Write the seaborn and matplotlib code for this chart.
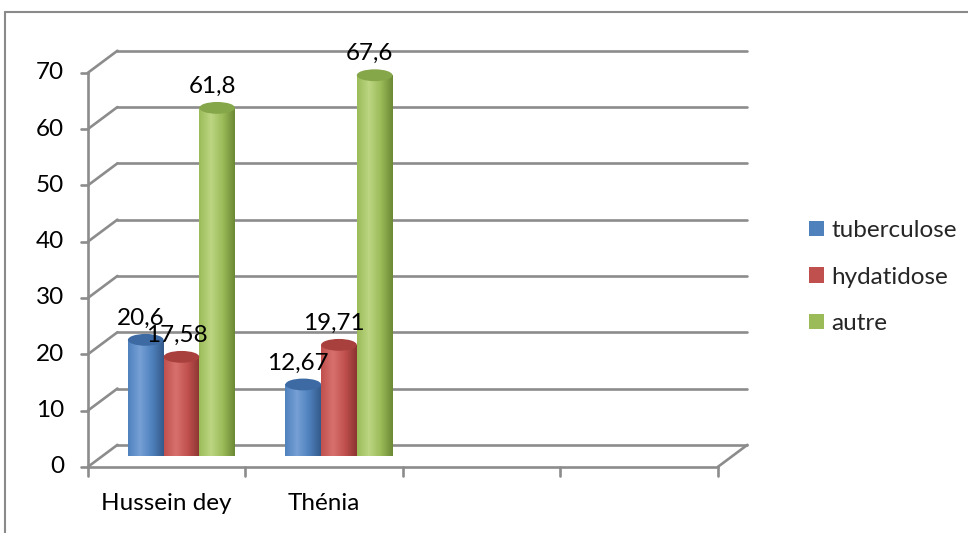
import numpy as np
import pandas as pd
import matplotlib
matplotlib.use('Agg')
import matplotlib.pyplot as plt
import seaborn as sns
from matplotlib.patches import Ellipse, Rectangle, Patch
from matplotlib.colors import LinearSegmentedColormap, to_rgba
from matplotlib.transforms import offset_copy

# --- données ---
SITES = ['Hussein dey', 'Thénia']
SLOTS = ['Hussein dey', 'Thénia', ' ', '  ']  # 4 emplacements, 2 vides
MALADIES = ['tuberculose', 'hydatidose', 'autre']
TUBERCULOSE = [20.6, 12.67]
HYDATIDOSE = [17.58, 19.71]
AUTRE = [61.8, 67.6]
Y_TICKS = [0, 10, 20, 30, 40, 50, 60, 70]

# --- couleurs (base, clair, sombre, dessus) ---
COLORS = {
    'tuberculose': ('#4F81BD', '#76A0D6', '#335A8A', '#3D6AA3'),
    'hydatidose': ('#C0504D', '#D8716E', '#8A3431', '#A8403D'),
    'autre': ('#9BBB59', '#BCD682', '#6B8833', '#86A64A'),
}
GRID = '#8c8c8c'

sns.set_theme(style='white')
plt.rcParams['font.family'] = ['Lato', 'DejaVu Sans']
FS = 17.5

df = pd.DataFrame({
    'site': SITES * 3,
    'maladie': [m for m in MALADIES for _ in SITES],
    'valeur': TUBERCULOSE + HYDATIDOSE + AUTRE,
})

fig = plt.figure(figsize=(9.68, 5.33), dpi=100)
ax = fig.add_axes([0.1061, 0.1448, 0.6508, 0.7394])

palette = {m: COLORS[m][0] for m in MALADIES}
sns.barplot(data=df, x='site', y='valeur', hue='maladie', order=SLOTS,
            hue_order=MALADIES, palette=palette, width=0.68, ax=ax,
            legend=False, errorbar=None)

ax.set_xlim(-0.5, len(SLOTS) - 0.5)
ax.set_ylim(0, 70)
ax.axis('off')

# plans avant / arrière (pseudo 3D)
front = offset_copy(ax.transData, fig=fig, x=-14.75, y=-11, units='dots')
back = offset_copy(ax.transData, fig=fig, x=14.75, y=11, units='dots')
x0, x1 = -0.5, len(SLOTS) - 0.5

line_kw = dict(color=GRID, lw=1.9, clip_on=False, zorder=1)
for t in Y_TICKS:
    # mur du fond
    ax.plot([x0, x1], [t, t], transform=back, **line_kw)
    # paroi gauche : diagonale avant -> arrière
    p_f = front.transform((x0, t))
    p_b = back.transform((x0, t))
    ax.plot([p_f[0], p_b[0]], [p_f[1], p_b[1]], transform=None, **line_kw)
    # petites graduations
    ax.plot([p_f[0] - 7, p_f[0]], [p_f[1], p_f[1]], transform=None, **line_kw)
    ax.text(p_f[0] - 24, p_f[1], str(t), ha='right', va='center',
            fontsize=FS, transform=None, color='black')

# axe vertical avant
ax.plot([x0, x0], [0, 70], transform=front, **line_kw)
# sol : bord avant et diagonale droite
ax.plot([x0, x1], [0, 0], transform=front, **line_kw)
p_f = front.transform((x1, 0))
p_b = back.transform((x1, 0))
ax.plot([p_f[0], p_b[0]], [p_f[1], p_b[1]], transform=None, **line_kw)

# graduations de l'axe des catégories
for i in range(len(SLOTS) + 1):
    p = front.transform((i - 0.5, 0))
    ax.plot([p[0], p[0]], [p[1], p[1] - 9], transform=None, **line_kw)
for i, s in enumerate(SITES):
    p = front.transform((i, 0))
    ax.text(p[0], p[1] - 37, s, ha='center', va='center', fontsize=FS,
            transform=None, color='black')

# cylindres
grad = np.linspace(0, 1, 256).reshape(1, -1)
ell_h = 2.1
bars = [p for p in ax.patches if p.get_height() > 0]
for p in bars:
    bx, bw, bh = p.get_x(), p.get_width(), p.get_height()
    fc = np.array(p.get_facecolor())
    key = min(COLORS, key=lambda k: np.sum(np.abs(np.array(to_rgba(COLORS[k][0])) - fc)))
    base, light, dark, top = COLORS[key]
    cmap = LinearSegmentedColormap.from_list(key, [base, light, base, dark])
    p.set_visible(False)
    cx = bx + bw / 2
    rect = Rectangle((bx, 0), bw, bh, transform=ax.transData)
    bottom = Ellipse((cx, 0), bw, ell_h, transform=ax.transData)
    for clip in (rect, bottom):
        im = ax.imshow(grad, extent=[bx, bx + bw, -ell_h, bh], aspect='auto',
                       cmap=cmap, zorder=3, interpolation='bilinear')
        im.set_clip_path(clip)
    ax.add_patch(Ellipse((cx, bh), bw, ell_h, facecolor=top,
                         edgecolor='none', zorder=4))
    label = f'{bh:g}'.replace('.', ',')
    ax.annotate(label, (cx, bh), xytext=(-5, 11), textcoords='offset pixels',
                ha='center', va='bottom', fontsize=FS, color='black', zorder=6)

ax.set_xlim(-0.5, len(SLOTS) - 0.5)
ax.set_ylim(0, 70)

# légende
handles = [Patch(facecolor=COLORS[m][0], edgecolor='none') for m in MALADIES]
fig.legend(handles, MALADIES, loc='center left',
           bbox_to_anchor=(797 / 968, (533 - 277) / 533), frameon=False,
           fontsize=FS, handlelength=0.6, handleheight=0.6,
           handletextpad=0.3, labelspacing=1.05, borderpad=0)

# cadre extérieur (haut et gauche visibles)
fig.add_artist(plt.Line2D([5 / 968, 1.0], [1 - 12 / 533, 1 - 12 / 533],
                          color='#8a8a8a', lw=1.5, transform=fig.transFigure))
fig.add_artist(plt.Line2D([5 / 968, 5 / 968], [0, 1 - 12 / 533],
                          color='#8a8a8a', lw=1.5, transform=fig.transFigure))

fig.savefig('out.png', dpi=100)
